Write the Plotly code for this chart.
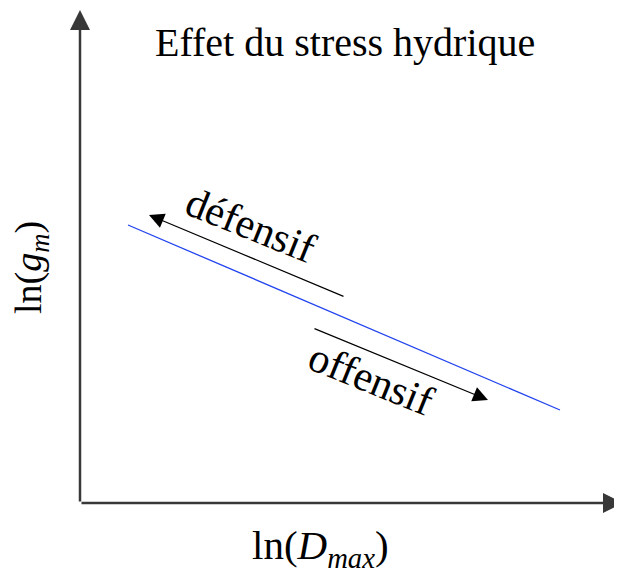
import plotly.graph_objects as go

# Schematic: ln(g_m) vs ln(D_max), arbitrary units (origin = axis corner)
line_x = [48, 480]
line_y = [278, 93]

# direction arrows: tail -> head
defensif_tail = (265, 206)
defensif_head = (69, 288)
offensif_tail = (233, 175)
offensif_head = (408, 103)

# axis ends
x_axis_end = 543
y_axis_end = 493

title_text = "Effet du stress hydrique"
x_label = "ln(<i>D</i><sub><i>max</i></sub>)"
y_label = "ln(<i>g</i><sub><i>m</i></sub>)"

serif = "Liberation Serif, Times New Roman, serif"

fig = go.Figure()

fig.add_trace(go.Scatter(
    x=line_x, y=line_y, mode="lines",
    line=dict(color="#2244ee", width=1.3),
    hoverinfo="skip", showlegend=False
))


def arrow(tail, head, width, size, color):
    fig.add_annotation(
        x=head[0], y=head[1], ax=tail[0], ay=tail[1],
        xref="x", yref="y", axref="x", ayref="y",
        text="", showarrow=True, arrowhead=2, arrowsize=size,
        arrowwidth=width, arrowcolor=color, standoff=0, startstandoff=0
    )


# axes with arrowheads
arrow((0, 0), (0, y_axis_end), 2.5, 1.6, "#383838")
arrow((0, 0), (x_axis_end, 0), 2.5, 1.6, "#383838")

# strategy arrows
arrow(defensif_tail, defensif_head, 1.2, 2.5, "black")
arrow(offensif_tail, offensif_head, 1.2, 2.5, "black")

# texts
fig.add_annotation(x=265, y=461, text=title_text, showarrow=False,
                   font=dict(family=serif, size=40, color="black"))
fig.add_annotation(x=170, y=278, text="défensif", showarrow=False, textangle=22,
                   font=dict(family=serif, size=42, color="black"))
fig.add_annotation(x=291, y=124, text="offensif", showarrow=False, textangle=22,
                   font=dict(family=serif, size=42, color="black"))
fig.add_annotation(x=-49, y=235, text=y_label, showarrow=False, textangle=-90,
                   font=dict(family=serif, size=38, color="black"))
fig.add_annotation(x=240, y=-45, text=x_label, showarrow=False,
                   font=dict(family=serif, size=41, color="black"))

# page has an 8px body margin, so shift the ranges to land on the reference pixels
fig.update_xaxes(range=[-72, 550], visible=False)
fig.update_yaxes(range=[-78, 495], visible=False)
fig.update_layout(
    width=622, height=573,
    margin=dict(l=0, r=0, t=0, b=0),
    plot_bgcolor="white", paper_bgcolor="white",
    showlegend=False
)

fig.write_html("out.html")
